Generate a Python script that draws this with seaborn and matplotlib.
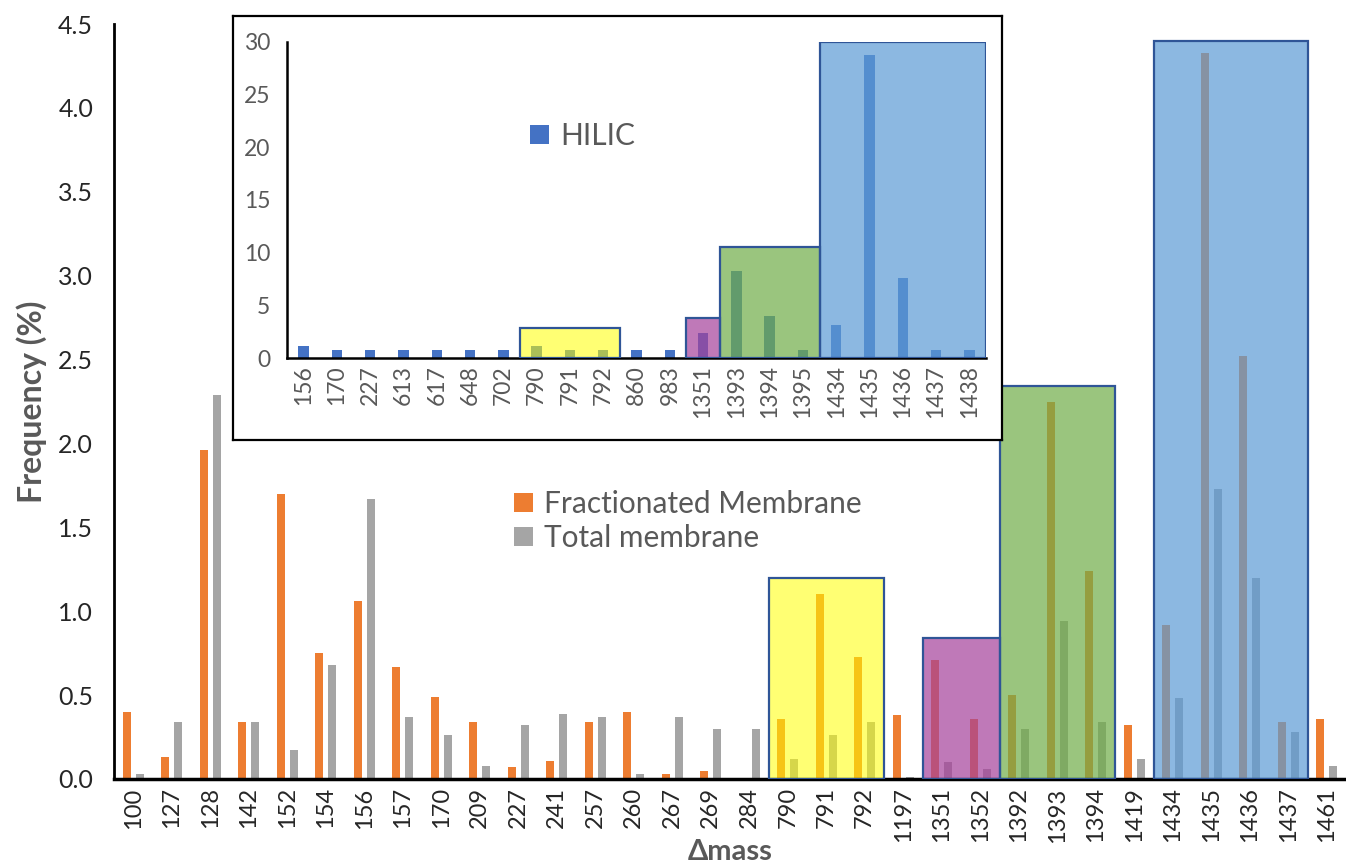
import pandas as pd
import matplotlib
matplotlib.use("Agg")
import matplotlib.pyplot as plt
import seaborn as sns
from matplotlib.patches import Rectangle
from matplotlib.ticker import MultipleLocator, FixedLocator

# Main chart data (frequency %)
main_labels = ["100", "127", "128", "142", "152", "154", "156", "157", "170", "209",
               "227", "241", "257", "260", "267", "269", "284", "790", "791", "792",
               "1197", "1351", "1352", "1392", "1393", "1394", "1419", "1434", "1435",
               "1436", "1437", "1461"]
fractionated = [0.40, 0.13, 1.96, 0.34, 1.70, 0.75, 1.06, 0.67, 0.49, 0.34,
                0.07, 0.11, 0.34, 0.40, 0.03, 0.05, 0.0, 0.36, 1.10, 0.73,
                0.38, 0.71, 0.36, 0.50, 2.25, 1.24, 0.32, 0.92, 4.33,
                2.52, 0.34, 0.36]
total = [0.03, 0.34, 2.29, 0.34, 0.17, 0.68, 1.67, 0.37, 0.26, 0.08,
         0.32, 0.39, 0.37, 0.03, 0.37, 0.30, 0.30, 0.12, 0.26, 0.34,
         0.01, 0.10, 0.06, 0.30, 0.94, 0.34, 0.12, 0.48, 1.73,
         1.20, 0.28, 0.08]

# Inset data (HILIC)
inset_labels = ["156", "170", "227", "613", "617", "648", "702", "790", "791", "792",
                "860", "983", "1351", "1393", "1394", "1395", "1434", "1435", "1436",
                "1437", "1438"]
hilic = [1.2, 0.8, 0.8, 0.8, 0.8, 0.8, 0.8, 1.2, 0.8, 0.8,
         0.8, 0.8, 2.4, 8.3, 4.0, 0.8, 3.2, 28.7, 7.6, 0.8, 0.8]

# Highlight boxes: (first label, last label, height)
box_colors = ["#FFFF00", "#A5419A", "#70AD47", "#5B9BD5"]
box_alphas = [0.55, 0.7, 0.7, 0.7]
main_boxes = [("790", "792", 1.2), ("1351", "1352", 0.84),
              ("1392", "1394", 2.34), ("1434", "1437", 4.40)]
inset_boxes = [("790", "792", 2.85), ("1351", "1351", 3.8),
               ("1393", "1395", 10.5), ("1434", "1438", 30)]

sns.set_style("white")
plt.rcParams["font.family"] = ["Lato", "DejaVu Sans"]

fig = plt.figure(figsize=(13.46, 8.66), dpi=100)
ax = fig.add_axes([114 / 1346, 1 - 779 / 866, 1232 / 1346, 755 / 866])

df = pd.DataFrame({
    "mass": main_labels * 2,
    "freq": fractionated + total,
    "series": ["Fractionated Membrane"] * len(main_labels) + ["Total membrane"] * len(main_labels),
})
sns.barplot(data=df, x="mass", y="freq", hue="series", order=main_labels,
            hue_order=["Fractionated Membrane", "Total membrane"],
            palette=["#ED7D31", "#A5A5A5"], saturation=1, width=0.68, gap=0.37,
            errorbar=None, linewidth=0, ax=ax, zorder=2)


def draw_boxes(axis, labels, boxes):
    for (a, b, h), c, al in zip(boxes, box_colors, box_alphas):
        i0 = labels.index(a)
        i1 = labels.index(b)
        axis.add_patch(Rectangle((i0 - 0.5, 0), i1 - i0 + 1, h, facecolor=c, alpha=al,
                                 edgecolor="none", zorder=3))
        axis.add_patch(Rectangle((i0 - 0.5, 0), i1 - i0 + 1, h, facecolor="none",
                                 edgecolor="#2F5597", linewidth=1.6, zorder=4))


draw_boxes(ax, main_labels, main_boxes)

ax.set_xlim(-0.5, len(main_labels) - 0.5)
ax.set_ylim(0, 4.5)
ax.yaxis.set_major_locator(MultipleLocator(0.5))
ax.yaxis.set_major_formatter(matplotlib.ticker.FormatStrFormatter("%.1f"))
ax.xaxis.set_minor_locator(FixedLocator([i - 0.5 for i in range(len(main_labels) + 1)]))
ax.tick_params(axis="x", which="major", length=0, labelsize=17, rotation=90, pad=6)
ax.tick_params(axis="x", which="minor", length=8, width=2, color="black", direction="out")
ax.tick_params(axis="y", length=9, width=2, color="black", labelsize=18, direction="out", pad=6)
for s in ["top", "right"]:
    ax.spines[s].set_visible(False)
ax.spines["left"].set_linewidth(2)
ax.spines["bottom"].set_linewidth(2.5)
ax.spines["left"].set_color("black")
ax.spines["bottom"].set_color("black")
ax.set_xlabel("Δmass", fontsize=21, fontweight="bold", color="#595959")
ax.set_ylabel("Frequency (%)", fontsize=23, fontweight="bold", color="#595959")
ax.xaxis.set_label_coords(0.5, -0.08)
ax.yaxis.set_label_coords(-0.054, 0.5)

handles, labels = ax.get_legend_handles_labels()
ax.legend(handles, labels, loc="upper left", bbox_to_anchor=(514 / 1346, 1 - 490 / 866),
          bbox_transform=fig.transFigure, frameon=False, fontsize=21.5,
          handlelength=0.65, handleheight=0.65, handletextpad=0.35, labelspacing=0.2,
          borderpad=0, borderaxespad=0, labelcolor="#595959")

# Inset frame
frame = fig.add_axes([233 / 1346, 1 - 440 / 866, 769 / 1346, 424 / 866])
frame.set_xticks([])
frame.set_yticks([])
frame.set_facecolor("white")
for s in frame.spines.values():
    s.set_visible(True)
    s.set_color("black")
    s.set_linewidth(1.6)

ax_in = fig.add_axes([287 / 1346, 1 - 358.3 / 866, 699 / 1346, 316.6 / 866])
ax_in.set_facecolor("none")
df_in = pd.DataFrame({"mass": inset_labels, "freq": hilic, "series": "HILIC"})
sns.barplot(data=df_in, x="mass", y="freq", hue="series", order=inset_labels,
            palette=["#4472C4"], saturation=1, width=0.31, errorbar=None, linewidth=0,
            ax=ax_in, zorder=2)
draw_boxes(ax_in, inset_labels, inset_boxes)
ax_in.set_xlim(-0.5, len(inset_labels) - 0.5)
ax_in.set_ylim(0, 30)
ax_in.yaxis.set_major_locator(MultipleLocator(5))
ax_in.xaxis.set_minor_locator(FixedLocator([i - 0.5 for i in range(len(inset_labels) + 1)]))
ax_in.tick_params(axis="x", which="major", length=0, labelsize=16.5, rotation=90, pad=5,
                  labelcolor="#595959")
ax_in.tick_params(axis="x", which="minor", length=6, width=1.8, color="black", direction="out")
ax_in.tick_params(axis="y", length=7, width=1.8, color="black", labelsize=16.5,
                  direction="out", pad=5, labelcolor="#595959")
for s in ["top", "right"]:
    ax_in.spines[s].set_visible(False)
ax_in.spines["left"].set_linewidth(1.8)
ax_in.spines["bottom"].set_linewidth(1.8)
ax_in.spines["left"].set_color("black")
ax_in.spines["bottom"].set_color("black")
ax_in.set_xlabel("")
ax_in.set_ylabel("")
h2, l2 = ax_in.get_legend_handles_labels()
ax_in.legend(h2, l2, loc="upper left", bbox_to_anchor=(530 / 1346, 1 - 122 / 866),
             bbox_transform=fig.transFigure, frameon=False, fontsize=21.5,
             handlelength=0.65, handleheight=0.65, handletextpad=0.35,
             borderpad=0, borderaxespad=0, labelcolor="#595959")

fig.savefig("out.png", dpi=100)
